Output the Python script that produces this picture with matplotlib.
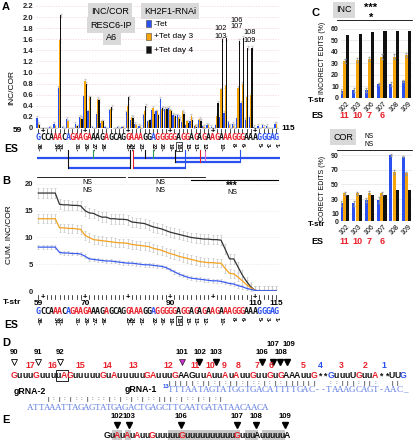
import numpy as np
import matplotlib
matplotlib.use('Agg')
import matplotlib.pyplot as plt
from matplotlib.patches import Rectangle
from matplotlib import font_manager

_names = {f.name for f in font_manager.fontManager.ttflist}
NARROW = 'Liberation Sans Narrow' if 'Liberation Sans Narrow' in _names else 'DejaVu Sans Mono'
plt.rcParams['font.family'] = ['Liberation Sans', 'DejaVu Sans']

# ---------------- data ----------------
positions = list(range(59, 116))
seqA = "GCCAAACAGAAGAAAGAGCAGGAAAGGAGGGGGAGGAGAGAAGAAAGGGAAAGGGAG"
seqA_col = "bkkkrrkbrr" "rrrkkkrkkk" "krrrrkkbrr" "rrrkrrkrkr" "krrkrrrrrk" "kkbbbbb"

incA_minus = [.18, 0, 0, .01, .08, .72, .01, .17, 0, .07, .20, .57, .30, .01, .25, .09, .01, .32, 0, .01,
              .01, .28, .15, .07, .04, .23, .12, .33, .30, .52, .35, .36, .24, .23, .10, .05, .13, .03, .14, .03,
              .06, .02, .05, .20, .27, .10, .08, .18, .45, .15, .20, .02, .04, .05, .04, 0, .08]
incA_d3 = [.07, 0, 0, 0, .03, 1.58, 0, .12, 0, .03, .18, .85, .55, 0, .53, .12, 0, .35, 0, 0,
           .01, .40, .20, .05, .02, .30, .10, .36, .30, .35, .33, .32, .20, .20, .30, .12, .22, .05, .17, .02,
           .05, 0, .22, .70, .75, .05, .04, .72, .80, .55, .60, 0, 0, .02, 0, 0, .07]
incA_d4 = [.05, 0, 0, 0, 0, 2.03, 0, 0, 0, .03, .16, .80, .55, 0, .50, .12, 0, .38, 0, 0,
           0, .55, .18, 0, 0, .40, .14, .25, .23, .36, .34, .30, .22, .17, .26, .09, .15, .02, .13, 0,
           0, 0, .45, 1.60, 1.62, 0, 0, 1.57, 1.63, 1.45, 1.45, 0, 0, 0, 0, 0, 0]

cum_d4 = [18.3, 18.3, 18.3, 18.3, 18.3, 16.2, 16.1, 16.1, 16.0, 16.0, 15.9,
          15.0, 14.6, 14.5, 14.1, 13.8, 13.8, 13.5, 13.5, 13.4, 13.4,
          13.3, 12.9, 12.8, 12.7, 12.6, 12.3, 12.0, 11.8, 11.6, 11.3,
          11.0, 10.8, 10.6, 10.4, 10.2, 10.0, 9.9, 9.8, 9.7, 9.7,
          9.6, 9.6, 9.5, 7.8, 6.0, 6.0, 4.5, 3.0, 1.8, 0.8, 0.1,
          0.05, 0.05, 0.05, 0.05, 0.05]
cum_d3 = [13.5, 13.5, 13.5, 13.5, 13.5, 11.8, 11.8, 11.7, 11.7, 11.6, 11.5,
          10.4, 10.0, 9.6, 9.5, 9.4, 9.3, 9.2, 9.1, 9.0, 9.0,
          8.9, 8.7, 8.6, 8.5, 8.4, 8.3, 8.0, 7.8, 7.6, 7.3,
          7.0, 6.8, 6.5, 6.3, 6.1, 5.9, 5.7, 5.5, 5.4, 5.3,
          5.3, 5.2, 5.2, 4.2, 3.3, 3.2, 2.6, 1.9, 1.2, 0.6, 0.1,
          0.05, 0.05, 0.05, 0.05, 0.05]
cum_minus = [8.2, 8.2, 8.2, 8.2, 8.2, 7.2, 7.1, 7.1, 7.0, 7.0, 6.9,
             6.5, 6.0, 5.9, 5.8, 5.7, 5.6, 5.6, 5.5, 5.4, 5.3,
             5.2, 5.2, 5.1, 5.0, 4.9, 4.9, 4.8, 4.7, 4.6, 4.4,
             4.0, 3.6, 3.2, 2.9, 2.6, 2.4, 2.3, 2.2, 2.1, 2.0,
             1.9, 1.9, 1.8, 1.6, 1.4, 1.3, 1.0, 0.8, 0.5, 0.3, 0.1,
             0.05, 0.05, 0.05, 0.05, 0.05]
err_cum = {'minus': 0.35, 'd3': 0.8, 'd4': 0.9}

es_labels = ['36', '34', '33', '31', '29', '27', '26', '25', '24', '23', '22', '20', '19', '16',
             '15', '13', '12', '10', '8', '6', '5', '3', '1']
es_pos = [59, 63, 64, 68, 70, 72, 74, 80, 81, 83, 86, 88, 90, 92, 94, 96, 98, 102, 105, 107, 111, 113, 115]

tstr_C = ['102', '103', '106', '107', '108', '109']
es_C = ['11', '10', '7', '6', '', '']
incC_minus = [6, 7, 7, 12, 12, 15]
incC_d3 = [32, 33, 34, 36, 36, 37.5]
incC_d4 = [55, 56, 57, 58, 58, 58.5]
incC_err_minus = [1.5, 1.5, 1.5, 1.0, 1.5, 1.0]
incC_err_d3 = [2, 2, 2, 2, 2, 2]
corC_minus = [24, 24, 29, 29, 90, 88]
corC_d3 = [38, 38, 38.5, 38, 67, 65]
corC_d4 = [36, 36, 36, 36, 42, 42]
corC_err_minus = [3, 3, 3, 4, 1, 1]
corC_err_d3 = [2, 2, 2, 2, 3, 2]

seqD = "GuuuGuuuuAGuuuuuGuAuuuuuGAuuuGAAGuuAuuAuAuuGuuGuGAAAuuG**GuuuUGuuA**UUG"
gRNA1 = "TTTAATAGTATGGTGACATTTTGAC--TAAAGCAGT-AAC_"
gRNA2 = "ATTAAATTAGAGTATGAGACTGAGCTTCAATGATATAACAACA"
seqE = "GuAuAuAuuGuuuuuGuuuuuuuuuuGuuuAuuuuuA"

BLUE = '#2a50f0'
ORANGE = '#f5a50a'
BLACK = '#111111'
RED = '#e8202a'
SEQBLUE = '#2a50f0'

W, H = 415, 440
fig = plt.figure(figsize=(W / 100, H / 100), dpi=100)


def rect(x0, y0, x1, y1):
    return [x0 / W, 1 - y1 / H, (x1 - x0) / W, (y1 - y0) / H]


XL, XR = 35.7, 278.8
PMIN, PMAX = 58.4, 115.6


def xp(p):
    return XL + (p - PMIN) / (PMAX - PMIN) * (XR - XL)


def clean(ax, size=5.5):
    for s in ax.spines.values():
        s.set_visible(False)
    ax.tick_params(length=0, labelsize=size, pad=2)
    for t in ax.get_yticklabels():
        t.set_fontweight('bold')
        t.set_color('#222222')


# ---------------- Panel A ----------------
axA = fig.add_axes(rect(XL, 6, XR, 128))
pos = np.array(positions)
bw = 0.27
for vals, off, col in [(incA_minus, -0.28, BLUE), (incA_d3, 0.0, ORANGE), (incA_d4, 0.28, BLACK)]:
    v = np.array(vals)
    axA.bar(pos + off, v, bw, color=col, zorder=3,
            yerr=np.where(v > 0, 0.03, 0), error_kw=dict(ecolor='#c8c8c8', lw=0.6, capsize=0.8, zorder=2))
axA.set_xlim(PMIN, PMAX)
axA.set_ylim(0, 2.2)
yt = np.round(np.arange(0, 2.21, 0.2), 1)
axA.set_yticks(yt)
axA.set_yticklabels(['0' if t == 0 else f'{t:.1f}' for t in yt])
axA.set_xticks([])
axA.grid(axis='y', color='#f3d0d0', lw=0.5, ls=(0, (2, 2)), zorder=0)
clean(axA)
axA.set_ylabel('INC/COR', fontsize=6)
axA.yaxis.set_label_coords(-0.085, 0.33)

# ---------------- Panel B ----------------
axB = fig.add_axes(rect(XL, 178.6, XR, 291))
for vals, key, col in [(cum_d4, 'd4', '#333333'), (cum_d3, 'd3', '#f4a11f'), (cum_minus, 'minus', '#3a5cf0')]:
    axB.errorbar(pos, vals, yerr=err_cum[key], color=col, lw=0.9, ecolor='#c4c4c4',
                 elinewidth=0.5, capsize=0.8, capthick=0.5, zorder=3)
axB.set_xlim(PMIN, PMAX)
axB.set_ylim(0, 21)
axB.set_yticks([0, 5, 10, 15, 20])
axB.set_xticks([])
axB.grid(axis='y', color='#e6e6e6', lw=0.5, ls=(0, (2, 2)), zorder=0)
clean(axB)
axB.set_ylabel('CUM. INC/COR', fontsize=6)
axB.yaxis.set_label_coords(-0.095, 0.5)

# ---------------- Panel C ----------------
CX0, CX1 = 341, 412
CLO, CHI = -0.3, 5.45


def cpanel(y0, y1, ylim, yticks, mvals, dvals, kvals, merr, derr):
    ax = fig.add_axes(rect(CX0, y0, CX1, y1))
    x = np.arange(len(tstr_C))
    ax.bar(x - 0.26, mvals, 0.25, color=BLUE, yerr=merr,
           error_kw=dict(ecolor='#999999', lw=0.5, capsize=1), zorder=3)
    ax.bar(x, dvals, 0.25, color=ORANGE, yerr=derr,
           error_kw=dict(ecolor='#999999', lw=0.5, capsize=1), zorder=3)
    ax.bar(x + 0.26, kvals, 0.25, color=BLACK, zorder=3)
    ax.set_xlim(CLO, CHI)
    ax.set_ylim(*ylim)
    ax.set_yticks(yticks)
    ax.set_xticks(x)
    ax.set_xticklabels(tstr_C, rotation=45, ha='center', va='top')
    ax.grid(axis='y', color='#e4e4e4', lw=0.5, zorder=0)
    clean(ax, 5)
    ax.tick_params(pad=1.5)
    return ax


axC1 = cpanel(25.5, 98, (0, 63), [0, 10, 20, 30, 40, 50, 60],
              incC_minus, incC_d3, incC_d4, incC_err_minus, incC_err_d3)
axC2 = cpanel(151.4, 221, (0, 95), [0, 10, 30, 50, 70, 90],
              corC_minus, corC_d3, corC_d4, corC_err_minus, corC_err_d3)


def cx(i):
    return CX0 + (i - CLO) / (CHI - CLO) * (CX1 - CX0)


# ---------------- Overlay (annotations, sequences) ----------------
ov = fig.add_axes([0, 0, 1, 1])
ov.set_xlim(0, W)
ov.set_ylim(H, 0)
ov.axis('off')
ov.patch.set_alpha(0)


def T(x, y, s, size=6, color='k', weight='bold', ha='left', va='center', **kw):
    return ov.text(x, y, s, fontsize=size, color=color, fontweight=weight, ha=ha, va=va, **kw)


GREYBOX = dict(boxstyle='square,pad=0.35', fc='#d9d9d9', ec='none')
colmap = {'r': RED, 'k': BLACK, 'b': SEQBLUE}

# panel letters
T(2, 7, 'A', size=8)
T(2, 181, 'B', size=8)
T(311, 13, 'C', size=8)
T(2, 343, 'D', size=8)
T(2, 420, 'E', size=8)

# panel A legend / labels
T(110, 11, 'INC/COR', size=6.5, weight='normal', ha='center', bbox=GREYBOX)
T(111, 25, 'RESC6-IP', size=6.5, weight='normal', ha='center', bbox=GREYBOX)
T(112, 37, 'A6', size=6.5, weight='normal', ha='center', bbox=GREYBOX)
T(170, 11, 'KH2F1-RNAi', size=6.5, weight='normal', ha='center', bbox=GREYBOX)
for i, (lab, col) in enumerate([('-Tet', BLUE), ('+Tet day 3', ORANGE), ('+Tet day 4', BLACK)]):
    yy = 24 + 13 * i
    ov.add_patch(Rectangle((145.5, yy - 3.5), 5, 7, fc=col, ec='#444444', lw=0.4))
    T(154, yy, lab, size=6, weight='normal')
for lab, x, y in [('102', 221, 29), ('103', 221, 36), ('106', 237, 20), ('107', 237, 27),
                  ('108', 250, 33), ('109', 250, 40)]:
    T(x, y, lab, size=5.3, weight='normal', ha='center')


def tick_row(y):
    for p in positions:
        if p % 10 == 0:
            T(xp(p), y, '+', size=5.5, ha='center')
        else:
            ov.plot([xp(p), xp(p)], [y - 1.8, y + 1.8], color='k', lw=0.5)


def seq_row(y):
    for i, (ch, c) in enumerate(zip(seqA, seqA_col)):
        ov.text(xp(positions[i]), y, ch, fontsize=6, color=colmap[c], fontweight='bold',
                family=[NARROW, 'DejaVu Sans'], ha='center', va='center')


def es_row(y):
    for lab, p in zip(es_labels, es_pos):
        T(xp(p), y, lab + '-', size=4.2, ha='center', va='top', rotation=270)
    i16 = es_labels.index('16')
    ov.add_patch(Rectangle((xp(es_pos[i16]) - 3, y - 1), 6, 9, fc='none', ec='k', lw=0.5))


# Panel A bottom rows
tick_row(131)
T(22, 131, '59', size=6, ha='right')
T(281, 128, '115', size=6)
seq_row(138)
T(4, 149, 'ES', size=7.5)
es_row(143)
# connecting lines (gRNA anchors)
for (x0, x1, y, c) in [(37, 130, 158, BLUE), (68, 130, 168, BLUE), (133, 185, 168, BLUE),
                       (133, 280, 158, BLUE), (175, 240, 162, BLUE)]:
    ov.plot([x0, x1], [y, y], color=c, lw=1.6, solid_capstyle='butt')
for (x, y0, y1, c) in [(68, 150, 168, BLACK), (130, 150, 168, BLACK), (133, 150, 168, RED),
                       (93, 150, 158, '#2ca05a'), (153, 150, 158, '#2ca05a'), (145, 150, 158, BLACK),
                       (185, 150, 168, BLUE), (200, 150, 162, RED), (205, 150, 160, '#e070d0'),
                       (240, 150, 162, BLUE), (175, 150, 162, BLACK)]:
    ov.plot([x, x], [y0, y1], color=c, lw=0.8)

# Panel B annotations
ov.plot([37, 125], [177, 177], color='k', lw=0.6)
ov.plot([128, 205], [177, 177], color='k', lw=0.6)
ov.plot([191, 278], [180, 180], color='k', lw=0.8)
T(87, 183, 'NS', size=5, weight='normal', ha='center')
T(87, 190, 'NS', size=5, weight='normal', ha='center')
T(160, 183, 'NS', size=5, weight='normal', ha='center')
T(160, 190, 'NS', size=5, weight='normal', ha='center')
T(232, 186, '***', size=7, ha='center')
T(232, 193, 'NS', size=5, weight='normal', ha='center')

# Panel B bottom rows
tick_row(297)
T(3, 303, 'T-str', size=6)
for lab, p in [('59', 59), ('70', 70), ('90', 90), ('110', 110), ('115', 115)]:
    T(xp(p), 303.5, lab, size=6, ha='center')
seq_row(312)
T(4, 325, 'ES', size=7.5)
es_row(317)

# Panel C annotations
T(344, 10, 'INC', size=6.5, weight='normal', ha='center', bbox=GREYBOX)
T(371, 8, '***', size=8, ha='center')
T(371, 17.5, '*', size=8, ha='center')
ov.plot([337, 412], [20.5, 20.5], color='k', lw=0.6)
T(322, 58, 'INCORECT EDITS (%)', size=5, weight='normal', ha='center', rotation=90)
T(308, 101, 'T-str', size=5.8)
T(311, 116, 'ES', size=6.5)
T(343, 137, 'COR', size=6.5, weight='normal', ha='center', bbox=GREYBOX)
T(369, 137, 'NS', size=4.8, weight='normal', ha='center')
T(369, 144, 'NS', size=4.8, weight='normal', ha='center')
ov.plot([337, 412], [150, 150], color='k', lw=0.6)
T(322, 188, 'CORECT EDITS (%)', size=5, weight='normal', ha='center', rotation=90)
T(308, 224, 'T-str', size=5.8)
T(311, 241, 'ES', size=6.5)
for i, lab in enumerate(es_C):
    if lab:
        T(cx(i), 116, lab, size=6.5, color=RED, ha='center')
        T(cx(i), 241, lab, size=6.5, color=RED, ha='center')

# ---------------- Panel D ----------------
for lab, x, y in [('90', 14, 353), ('91', 38, 353), ('92', 60, 353), ('101', 182, 352), ('102', 200, 352),
                  ('103', 216, 352), ('106', 262, 352), ('107', 273, 344), ('108', 281, 352),
                  ('109', 289, 344)]:
    T(x, y, lab, size=5.6, ha='center')
ov.plot([14, 38, 60], [362, 362, 362], 'v', ms=5, mfc='white', mec='k', mew=0.6, ls='none')
ov.plot([182], [362], 'v', ms=5, mfc='#cc33cc', mec='k', mew=0.4, ls='none')
ov.plot([199, 216, 262, 273, 280, 287], [362] * 6, 'v', ms=5, mfc='k', mec='k', ls='none')
for lab, x, c in [('17', 30, RED), ('16', 52, RED), ('15', 80, RED), ('14', 107, RED), ('13', 133, RED),
                  ('12', 168, RED), ('11', 195, RED), ('10', 210, RED), ('9', 224, RED), ('8', 238, RED),
                  ('7', 257, RED), ('6', 271, RED), ('5', 303, RED), ('4', 320, SEQBLUE), ('3', 341, RED),
                  ('2', 365, RED), ('1', 384, SEQBLUE)]:
    T(x, 366, lab, size=6.3, color=c, ha='center')
stepD = (403 - 14) / (len(seqD) - 1)
black_idx = {30, 31, 32, 49, 50, 51, 61, 68, 69}
for i, ch in enumerate(seqD):
    if ch in 'u*':
        c = BLACK
    elif i in black_idx:
        c = BLACK
    elif i in (57, 70):
        c = SEQBLUE
    else:
        c = RED
    T(14 + stepD * i, 376, ch, size=6.3, color=c, ha='center')
ov.add_patch(Rectangle((14 + stepD * 7.5, 370.5), stepD * 2.2, 11, fc='none', ec='k', lw=0.6))
pipesD = "|||||:||:|:||:|::|:|:||||||  ::|||:||:  ||"
for k, ch in enumerate(pipesD):
    if ch != ' ':
        T(14 + stepD * (28 + k), 383, ch, size=4.5, weight='normal', ha='center')
T(14, 391, 'gRNA-2', size=6.3)
T(125, 390, 'gRNA-1', size=6.3)
T(163, 387, '13', size=4.2, color=SEQBLUE)
step_g = 5.85
for i, ch in enumerate(gRNA1):
    ov.text(171 + step_g * i, 390, ch, fontsize=6.5, color='#5a78e0', family=['Liberation Serif', 'DejaVu Serif'],
            ha='center', va='center')
dots = "|:|:|::|:::|:|:|:|::|||:|::|:|:|"
for k, ch in enumerate(dots):
    T(48 + 5.56 * k, 399, ch, size=4.5, weight='normal', ha='center')
for i, ch in enumerate(gRNA2):
    ov.text(30 + 5.6 * i, 408, ch, fontsize=6.5, color='#5a78e0', family=['Liberation Serif', 'DejaVu Serif'],
            ha='center', va='center')

# ---------------- Panel E ----------------
for (x0, x1) in [(112, 122), (125, 131), (168, 240), (245, 258), (262, 285)]:
    ov.add_patch(Rectangle((x0, 430), x1 - x0, 11, fc='#c8c8c8', ec='none'))
for lab, x in [('102', 117), ('103', 129), ('106', 181), ('107', 237), ('108', 256), ('109', 285)]:
    T(x, 416, lab, size=5.6, ha='center')
ov.plot([117, 129, 181, 237, 256, 285], [425] * 6, 'v', ms=5, mfc='k', mec='k', ls='none')
redE = {2, 4, 6, 9, 15, 26}
for i, ch in enumerate(seqE):
    T(107 + 5.0 * i, 435.5, ch, size=6.3, color=RED if i in redE else BLACK, ha='center')

fig.savefig('out.png', dpi=100)
